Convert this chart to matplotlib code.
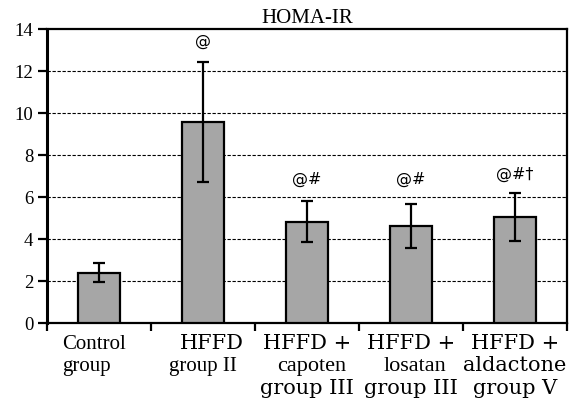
import numpy as np
import matplotlib.pyplot as plt
from matplotlib.transforms import blended_transform_factory

# HOMA-IR per group
group_lines = [["Control", "group"],
               ["HFFD", "group II"],
               ["HFFD +", "capoten", "group III"],
               ["HFFD +", "losatan", "group III"],
               ["HFFD +", "aldactone", "group V"]]
homa_mean = [2.4, 9.57, 4.83, 4.62, 5.05]
homa_err = [0.45, 2.85, 0.98, 1.07, 1.13]
sig_marks = ["", "@", "@#", "@#", "@#\u2020"]
sig_y = [0, 13.4, 6.85, 6.85, 7.1]

# lines printed in the wider (Century-like) face in the original
wide_lines = {"HFFD", "HFFD +", "aldactone", "group III", "group V"}

plt.rcParams['font.family'] = ['Liberation Serif', 'DejaVu Serif']

fig = plt.figure(figsize=(5.7, 4.0), dpi=100)
ax = fig.add_axes([0.0825, 0.1925, 0.9125, 0.735])

x = np.arange(len(group_lines))
ax.bar(x, homa_mean, width=0.40, color='#a6a6a6', edgecolor='black', linewidth=1.6,
       yerr=homa_err, error_kw=dict(ecolor='black', elinewidth=1.6, capsize=4, capthick=1.6),
       zorder=3)

for xi, m, yy in zip(x, sig_marks, sig_y):
    if m:
        ax.text(xi, yy, m, ha='center', va='center', fontsize=11.5,
                family=['DejaVu Sans'], zorder=4)

ax.set_xlim(-0.5, len(group_lines) - 0.5)
ax.set_ylim(0, 14)
ax.set_yticks(range(0, 15, 2))
ax.tick_params(axis='y', labelsize=13.5, width=1.6, length=6.5, direction='out', pad=3.5)

# x ticks at category boundaries, labels drawn under each bar
ax.set_xticks(np.arange(-0.5, len(group_lines), 1.0))
ax.set_xticklabels([])
ax.tick_params(axis='x', which='major', width=1.6, length=6, direction='out')

trans = blended_transform_factory(ax.transData, ax.transAxes)
line_y = [-0.0884, -0.163, -0.2415]
for i, lines in enumerate(group_lines):
    for j, txt in enumerate(lines):
        if i == 0:
            ax.text(-0.356, line_y[j], txt, transform=trans, ha='left', va='baseline',
                    fontsize=15)
        elif txt in wide_lines:
            xo = 1.08 if i == 1 else i
            ax.text(xo, line_y[j], txt, transform=trans, ha='center', va='baseline',
                    fontsize=15, family=['DejaVu Serif'])
        else:
            ax.text(i + 0.04 * (i > 1), line_y[j], txt, transform=trans, ha='center',
                    va='baseline', fontsize=16 if i > 1 else 15)

for y in range(2, 14, 2):
    ax.axhline(y, color='black', linestyle=(0, (3, 1.5)), linewidth=0.8, zorder=1)

for s in ax.spines.values():
    s.set_linewidth(1.6)
ax.spines['left'].set_linewidth(2.2)

ax.set_title("HOMA-IR", fontsize=15, pad=4)

fig.savefig("out.png", dpi=100)
